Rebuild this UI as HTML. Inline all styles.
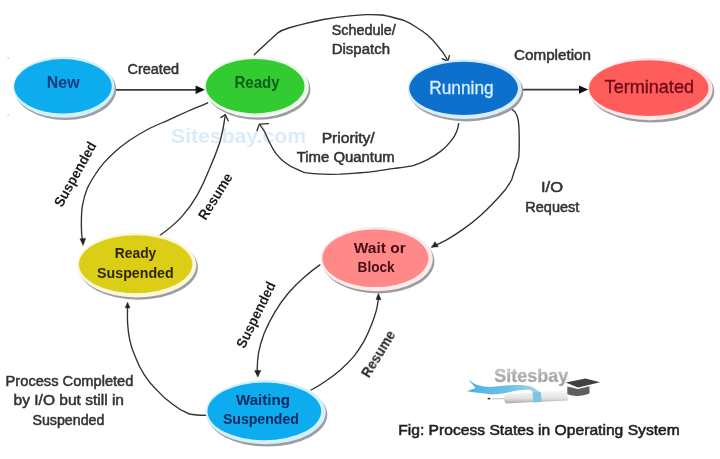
<!DOCTYPE html>
<html lang="en">
<head>
<meta charset="utf-8">
<title>Process States in Operating System</title>
<style>
html,body{margin:0;padding:0;background:#fff;}
body{width:720px;height:459px;overflow:hidden;}
svg{display:block;}
text{font-family:"Liberation Sans",sans-serif;}
.lbl{font-size:14px;fill:#333;stroke:#333;stroke-width:0.5;}
.rot{font-size:14.3px;font-weight:bold;fill:#1c1c1c;}
.ln{fill:none;stroke:#303030;stroke-width:1.35;stroke-linecap:round;stroke-linejoin:round;}
</style>
</head>
<body>
<svg width="720" height="459" viewBox="0 0 720 459">
<defs>
  <filter id="sh" x="-10%" y="-10%" width="125%" height="130%"><feGaussianBlur stdDeviation="0.55"/></filter>
  <filter id="soft" x="-5%" y="-5%" width="110%" height="110%"><feGaussianBlur stdDeviation="0.4"/></filter>
  <linearGradient id="gtxt" x1="0" y1="0" x2="0" y2="1"><stop offset="0" stop-color="#dedede"/><stop offset="0.5" stop-color="#adadad"/><stop offset="1" stop-color="#989898"/></linearGradient>
  <linearGradient id="grib" x1="0" y1="0" x2="1" y2="0"><stop offset="0" stop-color="#4fb0e2"/><stop offset="0.55" stop-color="#6cc0e8"/><stop offset="1" stop-color="#a5d8f0"/></linearGradient>
  <filter id="soft2" x="-5%" y="-20%" width="110%" height="140%"><feGaussianBlur stdDeviation="0.6"/></filter>
  <linearGradient id="gpen" x1="0" y1="0" x2="0" y2="1"><stop offset="0" stop-color="#fafafa"/><stop offset="0.6" stop-color="#e4e4e4"/><stop offset="1" stop-color="#a8a8a8"/></linearGradient>
</defs>
<rect width="720" height="459" fill="#fff"/>

<circle cx="8.2" cy="58" r="0.9" fill="#d4d4d4"/><circle cx="8.2" cy="115" r="0.9" fill="#d8d8d8"/>
<!-- watermark -->
<text x="171" y="142.5" filter="url(#soft2)" font-size="20.5" font-weight="bold" fill="#dcebf8" textLength="135" lengthAdjust="spacingAndGlyphs">Sitesbay.com</text>

<g id="lines" filter="url(#soft)">
<!-- straight arrows -->
<path class="ln" d="M116 89.8 H198" style="stroke-width:1.7;stroke:#383838"/>
<path d="M205 89.8 L195.6 85.6 L195.6 94 Z" fill="#111"/>
<path class="ln" d="M523.5 89.6 H581" style="stroke-width:1.7;stroke:#383838"/>
<path d="M588.2 89.6 L579 85.4 L579 93.8 Z" fill="#111"/>

<!-- Ready -> Running -->
<path class="ln" d="M254.3 54.7 C257.7 51.4 261.2 48.2 264.6 44.9 C269 40.9 273.3 36.9 277.7 32.9 C281 30.7 284.7 29.2 288.6 28 C294 26.3 299.5 24.9 305 23.6 C311 22.1 317.2 20.7 323.3 19.5 C332 17.9 341 16.6 350 15.8 C355.5 15.3 361 14.9 366.7 14.7 C371.7 14.6 376.7 14.6 381.7 15 C385.7 15.5 389.5 16.5 393.3 17.5 C397.3 18.5 401.2 19.5 405 20.8 C409.2 22.5 413 24.8 416.7 27.5 C420.8 30 424.7 32.7 428.3 35.8 C432 39 435.3 42.7 438.3 46.7 C441.7 50.3 444.9 55 447.8 60.3"/>
<path class="ln" d="M442 58.6 L448 61 L449.4 55.6"/>

<!-- Running -> Ready -->
<path class="ln" d="M458.7 123.6 C458.3 126.3 457.7 129 456.7 131.4 C455.3 135 453.3 138.2 450.9 141.1 C448 144.7 444.8 148 441.2 150.9 C437 154.3 432.3 157.2 427.5 159.6 C423.2 161.9 418.6 163.8 413.9 165.4 C407.5 167 401 167.6 394.5 168.4 C388 169.3 381.5 170.4 375 171.3 C368.5 172.1 362 172.6 355.6 173.2 C350.4 173.6 345.2 173.9 340 174.2 C328 174.6 316.5 174.4 305 172.7 C302 171.9 299.3 170.5 296.7 169.2 C292.3 167.5 288.5 165.2 285 162.5 C281.5 159.8 278.5 156.7 275.8 153.3 C273.5 150.2 271.6 146.8 270 143.3 C268.2 139.5 266.3 135.6 264.6 131.7 C263.2 129.3 261.4 126.8 259.6 124.4"/>
<path class="ln" d="M257 130.8 L259.3 124.1 L268.6 123.7"/>

<!-- Ready -> Ready Suspended -->
<path class="ln" d="M207.7 102.8 C201 105.8 194 108.6 187.3 111.5 C180.8 114.4 174.3 117.4 167.8 120.3 C161.3 123.2 154.8 125.8 148.4 129 C141.7 132.6 135.2 136.5 128.9 140.7 C124.2 144 119.6 147.5 115.3 151.4 C111.2 155.1 107.2 159 103.6 163.1 C100.4 166.9 97.5 170.9 94.9 175 C92.2 179.1 89.7 183.3 87.6 187.6 C85 193.7 83.3 200.1 82.2 206.6 C81.2 215.6 81.2 224.7 81.6 233.8 L82.5 241"/>
<path d="M83.1 245.4 L80 238.8 L85.6 238.4 Z" fill="#222" stroke="#222" stroke-width="0.5"/>

<!-- Ready Suspended -> Ready (Resume) -->
<path class="ln" d="M159.5 235.8 C167.5 230 175 224 181.6 216.9 C187.8 210 193 202.5 197.4 194.8 C201.8 186.8 205.6 178.5 209 170 C213.2 160.6 217 151 220.2 141.3 C222.3 132.8 224 124.3 225.2 115.8"/>
<path class="ln" d="M221 117.6 L225.2 114.5 L228.2 120.8"/>

<!-- Running -> Wait or Block (I/O Request) -->
<path class="ln" d="M509 107.8 C511.3 108.8 513.3 110 514.9 111.8 C517 114.5 517.9 118 518.4 121.6 C519.2 127.4 519.2 133.3 519.2 139.2 C519.3 145.1 519.3 151 518.8 156.9 C518.3 160.3 517.2 163.5 515.9 166.7 C514.4 170.7 513 175.5 511.6 180 C508 186.5 503.5 192.3 498.5 197.5 C493 203.6 487.2 209.4 481.1 214.9 C475.5 219.9 469.7 224.6 463.6 228.9 C458 232.9 452.2 236.7 446.2 240.2 C441.4 242.8 436.4 245.1 431.8 247"/>
<path d="M431.6 247.2 L435 241.8 L438.4 246.8 Z" fill="#222" stroke="#222" stroke-width="0.5"/>

<!-- Wait/Block -> Waiting Suspended -->
<path class="ln" d="M319.9 264.9 C314.2 268.8 308.8 273.1 303.6 277.7 C298.3 282.4 293.3 287.4 288.6 292.7 C283.6 298.7 279 305.1 275 311.8 C270.8 318.8 267.1 326 264.1 333.6 C261.8 339.8 259.8 346.1 258.6 352.6 C257.7 358 257.3 363.5 257.2 369 L257.4 374"/>
<path d="M257.8 377 L254.6 370.4 L260.8 370.4 Z" fill="#222" stroke="#222" stroke-width="0.5"/>

<!-- Waiting Suspended -> Wait/Block (Resume) -->
<path class="ln" d="M311 390 C316 387.5 320.7 384.7 325.1 381.5 C330.4 378 335.4 374.3 340.1 370.2 C345 365.9 349.6 361.3 353.9 356.4 C357.6 351.6 360.9 346.6 363.9 341.4 C366.8 336.1 369.2 330.7 371.4 325.1 C373.3 320.2 375 315.2 376.4 310.1 C377.2 306.8 377.8 303.4 378.2 300 L378.4 296"/>
<path d="M378.4 293.4 L376 299.4 L381 299.7 Z" fill="#222" stroke="#222" stroke-width="0.5"/>

<!-- Waiting Suspended -> Ready Suspended -->
<path class="ln" d="M206.5 415.4 C200.7 415.4 194.8 415.2 189.3 414 C183.2 411.6 177.5 408.2 172.3 404 C166.6 399.9 161.3 395.2 156.7 389.9 C151.8 385.2 147.5 380 144 374.3 C140.5 369 137.7 363.3 135.5 357.3 C133 351.9 131.1 346.2 129.8 340.3 C128.7 334.7 127.9 329 127.6 323.3 C127.3 318.2 127.4 313 127.6 306"/>
<path d="M127.6 302.2 L125.2 307.8 L130 308 Z" fill="#222" stroke="#222" stroke-width="0.5"/>
</g>

<!-- ellipses -->
<g id="nodes" filter="url(#soft)">
  <g><ellipse cx="65.5" cy="89.5" rx="50.7" ry="30.5" fill="#9c9ca4" filter="url(#sh)"/><ellipse cx="63.9" cy="87.2" rx="50.7" ry="30.5" fill="#d2f1fc"/><ellipse cx="62.95" cy="86.35" rx="48.75" ry="27.25" fill="#0eacef"/></g>
  <g><ellipse cx="258.3" cy="89.3" rx="52.1" ry="30.5" fill="#9c9ca4" filter="url(#sh)"/><ellipse cx="256.7" cy="87.0" rx="52.1" ry="30.5" fill="#eefcec"/><ellipse cx="255.15" cy="86.15" rx="49.35" ry="27.25" fill="#33cc33"/></g>
  <g><ellipse cx="466.3" cy="91.5" rx="57.1" ry="29.9" fill="#9c9ca4" filter="url(#sh)"/><ellipse cx="464.7" cy="89.2" rx="57.1" ry="29.9" fill="#d9eefc"/><ellipse cx="463.60" cy="88.35" rx="54.30" ry="26.65" fill="#0d70cc"/></g>
  <g><ellipse cx="651.9" cy="91.3" rx="62.4" ry="31.2" fill="#9c9ca4" filter="url(#sh)"/><ellipse cx="650.3" cy="89.0" rx="62.4" ry="31.2" fill="#fde8e8"/><ellipse cx="648.75" cy="88.15" rx="59.75" ry="27.95" fill="#ff5c5c"/></g>
  <g><ellipse cx="138.3" cy="267.4" rx="59.6" ry="32.3" fill="#9c9ca4" filter="url(#sh)"/><ellipse cx="136.7" cy="265.1" rx="59.6" ry="32.3" fill="#fbf8da"/><ellipse cx="135.60" cy="264.25" rx="56.70" ry="29.05" fill="#dccd14"/></g>
  <g><ellipse cx="378.3" cy="261.4" rx="56.1" ry="32.1" fill="#9c9ca4" filter="url(#sh)"/><ellipse cx="376.7" cy="259.1" rx="56.1" ry="32.1" fill="#fdeaea"/><ellipse cx="375.40" cy="258.25" rx="53.00" ry="28.85" fill="#ff8989"/></g>
  <g><ellipse cx="267.3" cy="414.5" rx="60.0" ry="32.1" fill="#9c9ca4" filter="url(#sh)"/><ellipse cx="265.7" cy="412.2" rx="60.0" ry="32.1" fill="#d2f1fc"/><ellipse cx="264.35" cy="411.35" rx="56.85" ry="28.85" fill="#0eacef"/></g>
</g>

<!-- node labels -->
<g filter="url(#soft)">
  <text x="46.8" y="88.3" font-size="16.5" font-weight="bold" fill="#0b3b7c" textLength="32.8" lengthAdjust="spacingAndGlyphs">New</text>
  <text x="234.5" y="87.6" font-size="16" font-weight="bold" fill="#0c5a1c" textLength="45" lengthAdjust="spacingAndGlyphs">Ready</text>
  <text x="429.3" y="94.2" font-size="18.5" fill="#d8eeff" stroke="#d8eeff" stroke-width="0.35" textLength="64.3" lengthAdjust="spacingAndGlyphs">Running</text>
  <text x="604.6" y="92.5" font-size="18.5" fill="#6e0a18" stroke="#6e0a18" stroke-width="0.35" textLength="89.4" lengthAdjust="spacingAndGlyphs">Terminated</text>
  <text x="114.8" y="257.9" font-size="14" font-weight="bold" fill="#2e2604" textLength="41.5" lengthAdjust="spacingAndGlyphs">Ready</text>
  <text x="97.1" y="277.9" font-size="14" font-weight="bold" fill="#2e2604" textLength="76.6" lengthAdjust="spacingAndGlyphs">Suspended</text>
  <text x="353.8" y="253.3" font-size="14.2" font-weight="bold" fill="#4a0d18" textLength="52" lengthAdjust="spacingAndGlyphs">Wait or</text>
  <text x="357.6" y="272" font-size="14.2" font-weight="bold" fill="#4a0d18" textLength="37" lengthAdjust="spacingAndGlyphs">Block</text>
  <text x="236" y="405" font-size="14.5" font-weight="bold" fill="#082a62" textLength="54" lengthAdjust="spacingAndGlyphs">Waiting</text>
  <text x="222.9" y="424" font-size="14.5" font-weight="bold" fill="#082a62" textLength="76" lengthAdjust="spacingAndGlyphs">Suspended</text>
</g>

<!-- edge labels -->
<g class="lbl" filter="url(#soft)">
  <text x="127.5" y="73.5" textLength="51.5" lengthAdjust="spacingAndGlyphs">Created</text>
  <text x="331.7" y="34.5" textLength="64" lengthAdjust="spacingAndGlyphs">Schedule/</text>
  <text x="331.7" y="54" textLength="58.3" lengthAdjust="spacingAndGlyphs">Dispatch</text>
  <text x="321.7" y="143" textLength="53" lengthAdjust="spacingAndGlyphs">Priority/</text>
  <text x="296.7" y="162.2" textLength="98" lengthAdjust="spacingAndGlyphs">Time Quantum</text>
  <text x="514" y="60" textLength="77" lengthAdjust="spacingAndGlyphs">Completion</text>
  <text x="541" y="192" textLength="22" lengthAdjust="spacingAndGlyphs">I/O</text>
  <text x="525.3" y="212" textLength="54" lengthAdjust="spacingAndGlyphs">Request</text>
  <text x="5.6" y="385.5" textLength="127.8" lengthAdjust="spacingAndGlyphs">Process Completed</text>
  <text x="13.6" y="405" textLength="110.4" lengthAdjust="spacingAndGlyphs">by I/O but still in</text>
  <text x="32.4" y="424.6" textLength="72" lengthAdjust="spacingAndGlyphs">Suspended</text>
</g>

<!-- rotated labels -->
<g class="rot" text-anchor="middle" filter="url(#soft)">
  <text transform="translate(79.5,176.5) rotate(-61)" textLength="72" lengthAdjust="spacingAndGlyphs">Suspended</text>
  <text transform="translate(219.5,199) rotate(-58)" textLength="52" lengthAdjust="spacingAndGlyphs">Resume</text>
  <text transform="translate(260.3,317) rotate(-64)" textLength="72" lengthAdjust="spacingAndGlyphs">Suspended</text>
  <text transform="translate(382.5,356.5) rotate(-58.5)" textLength="52" lengthAdjust="spacingAndGlyphs">Resume</text>
</g>

<!-- logo -->
<g id="logo">
  <path d="M468.1 379.4 C471 381.5 474 383.5 477.5 385 C481.5 386.3 485.7 386.8 490 386.9 C495 386.8 500 386.1 505 385.6 C509.2 385.2 513.3 384.9 517.5 385 C521.8 385.1 526 385.4 530 386.3 C532.3 387 534.5 388 536.3 389.4 C538 390.4 539.6 391.6 541 393 L533 392.5 C532 391 531 390.3 530 390 C526 389.5 521.7 389.9 517.5 390.6 C513.3 391.3 509.2 392.3 505 393.1 C501 393.9 496.7 394.4 492.5 394.4 C488.3 394.3 484 393.8 480 393.1 C475.5 392.6 471.2 392 466.9 391.3 L475.6 388.1 Z" fill="url(#grib)" filter="url(#soft2)"/>
  <path d="M505.5 394.6 L567 390 L568 400.6 L506 403.4 C503.3 400.8 503.3 397.4 505.5 394.6 Z" fill="url(#gpen)" filter="url(#soft)"/>
  <path d="M504 398.6 L492 398.9" stroke="#999" stroke-width="0.6" fill="none"/>
  <ellipse cx="489" cy="398.6" rx="1.6" ry="0.9" fill="#333"/>
  <path d="M532.5 392.3 L540.8 391.8 L541.6 402 L533.4 402.4 Z" fill="#7cc4e0" filter="url(#soft)"/>
  <path d="M565.7 382.6 L585.5 378.4 L600.2 382.2 L578 387.6 Z" fill="#414141" filter="url(#soft)"/>
  <path d="M567.3 386.4 L578 389 L589.5 386.2 L589.5 393.4 C582 396.6 573 396.6 567.3 394 Z" fill="#5e5e5e" filter="url(#soft)"/>
  <text x="494.2" y="381.6" font-size="17.5" font-weight="bold" fill="url(#gtxt)" stroke="#b4b4b4" stroke-width="0.35" textLength="74" lengthAdjust="spacingAndGlyphs" filter="url(#soft)">Sitesbay</text>
</g>

<!-- caption -->
<text filter="url(#soft)" x="398.2" y="435" font-size="15.2" fill="#1e1e1e" stroke="#1e1e1e" stroke-width="0.55" textLength="281.6" lengthAdjust="spacingAndGlyphs">Fig: Process States in Operating System</text>
</svg>
</body>
</html>
